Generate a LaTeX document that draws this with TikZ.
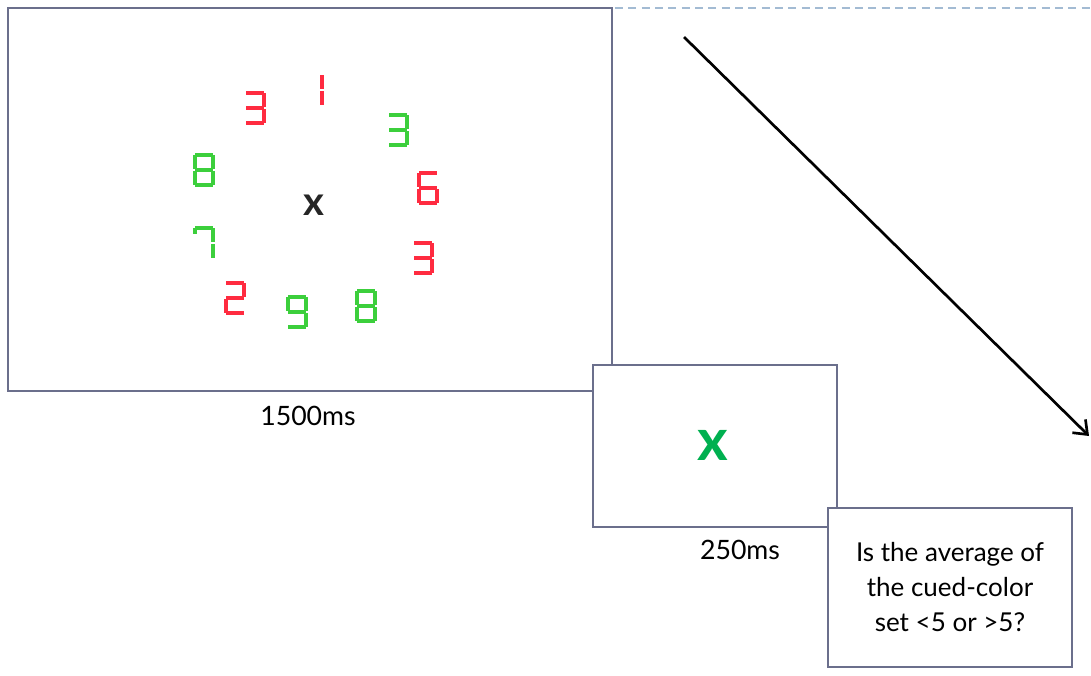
\documentclass[tikz,border=0pt]{standalone}
\usepackage{fontspec}
\setmainfont{Lato}
\usetikzlibrary{arrows.meta,fit}
\definecolor{boxline}{HTML}{6B6F8C}
\definecolor{dashc}{HTML}{A3BBD3}
\definecolor{dred}{HTML}{FF2B40}
\definecolor{dgreen}{HTML}{3CCF3C}
\definecolor{xgreen}{HTML}{00B050}
\newcommand\dsega{\draw (-9,-15)--(9,-15);}
\newcommand\dsegb{\draw (9,-15)--(9,-1);}
\newcommand\dsegc{\draw (9,1)--(9,15);}
\newcommand\dsegd{\draw (-9,15)--(9,15);}
\newcommand\dsege{\draw (-9,1)--(-9,15);}
\newcommand\dsegf{\draw (-9,-15)--(-9,-1);}
\newcommand\dsegg{\draw (-9,0)--(9,0);}
\newcommand\dsegh{\draw (-9,-15)--(-9,-9);}
\newcommand\dsegi{\draw (0,-15)--(0,-1);}
\newcommand\dsegj{\draw (0,1)--(0,15);}
\newcommand\digitat[3]{\begin{scope}[shift={(#1)},draw=#2,line width=2.3pt,line cap=square]
  \foreach \s in {#3} {\csname dseg\s\endcsname}\end{scope}}
\begin{document}
\begin{tikzpicture}[x=0.75pt,y=-0.75pt,
  box/.style={draw=boxline,line width=1.1pt,fill=white,inner sep=0pt},
  lbl/.style={font=\fontsize{20}{24}\selectfont,text=black},
  qtext/.style={font=\fontsize{19.5}{26}\selectfont,align=center,text=black}]
\useasboundingbox (0,0) rectangle (1091,675);
\fill[white] (0,0) rectangle (1091,675);
% dashed guide line
\coordinate (d0) at (615,8);
\coordinate (d1) at (1091,8);
\draw[dashc,line width=0.9pt,dash pattern=on 6pt off 4pt] (d0) -- (d1);
% screen 1
\node[box,fit={(8,8)(612,391)}] (s1) {};
\node[font=\fontsize{30}{30}\bfseries\selectfont,text=black!85] (fx) at (314,205) {x};
\digitat{322,90}{dred}{i,j}
\digitat{255,108}{dred}{a,b,g,c,d}
\digitat{398,130}{dgreen}{a,b,g,c,d}
\digitat{204,170}{dgreen}{a,b,c,d,e,f,g}
\digitat{428,188}{dred}{a,f,e,d,c,g}
\digitat{204,243}{dgreen}{a,b,c,h}
\digitat{423,258}{dred}{a,b,g,c,d}
\digitat{235,298}{dred}{a,b,g,e,d}
\digitat{297,312}{dgreen}{a,b,c,d,f,g}
\digitat{366,306}{dgreen}{a,b,c,d,e,f,g}
\node[lbl] (t1) at (308,416) {1500ms};
% screen 2
\node[box,fit={(593,365)(837,527)}] (s2) {};
\node[font=\fontsize{44}{44}\bfseries\selectfont,text=xgreen] (gx) at (713,445) {x};
\node[lbl] (t2) at (740,550) {250ms};
% screen 3
\node[box,fit={(828,508)(1072,667)}] (s3) {};
\node[qtext] (q) at (950,587) {Is the average of\\the cued-color\\set <5 or >5?};
% time arrow
\coordinate (a0) at (684,37);
\coordinate (a1) at (1089,436);
\draw[line width=2pt,-{Straight Barb[length=9pt,width=14pt,line width=2pt]}] (a0) -- (a1);
\end{tikzpicture}
\end{document}
